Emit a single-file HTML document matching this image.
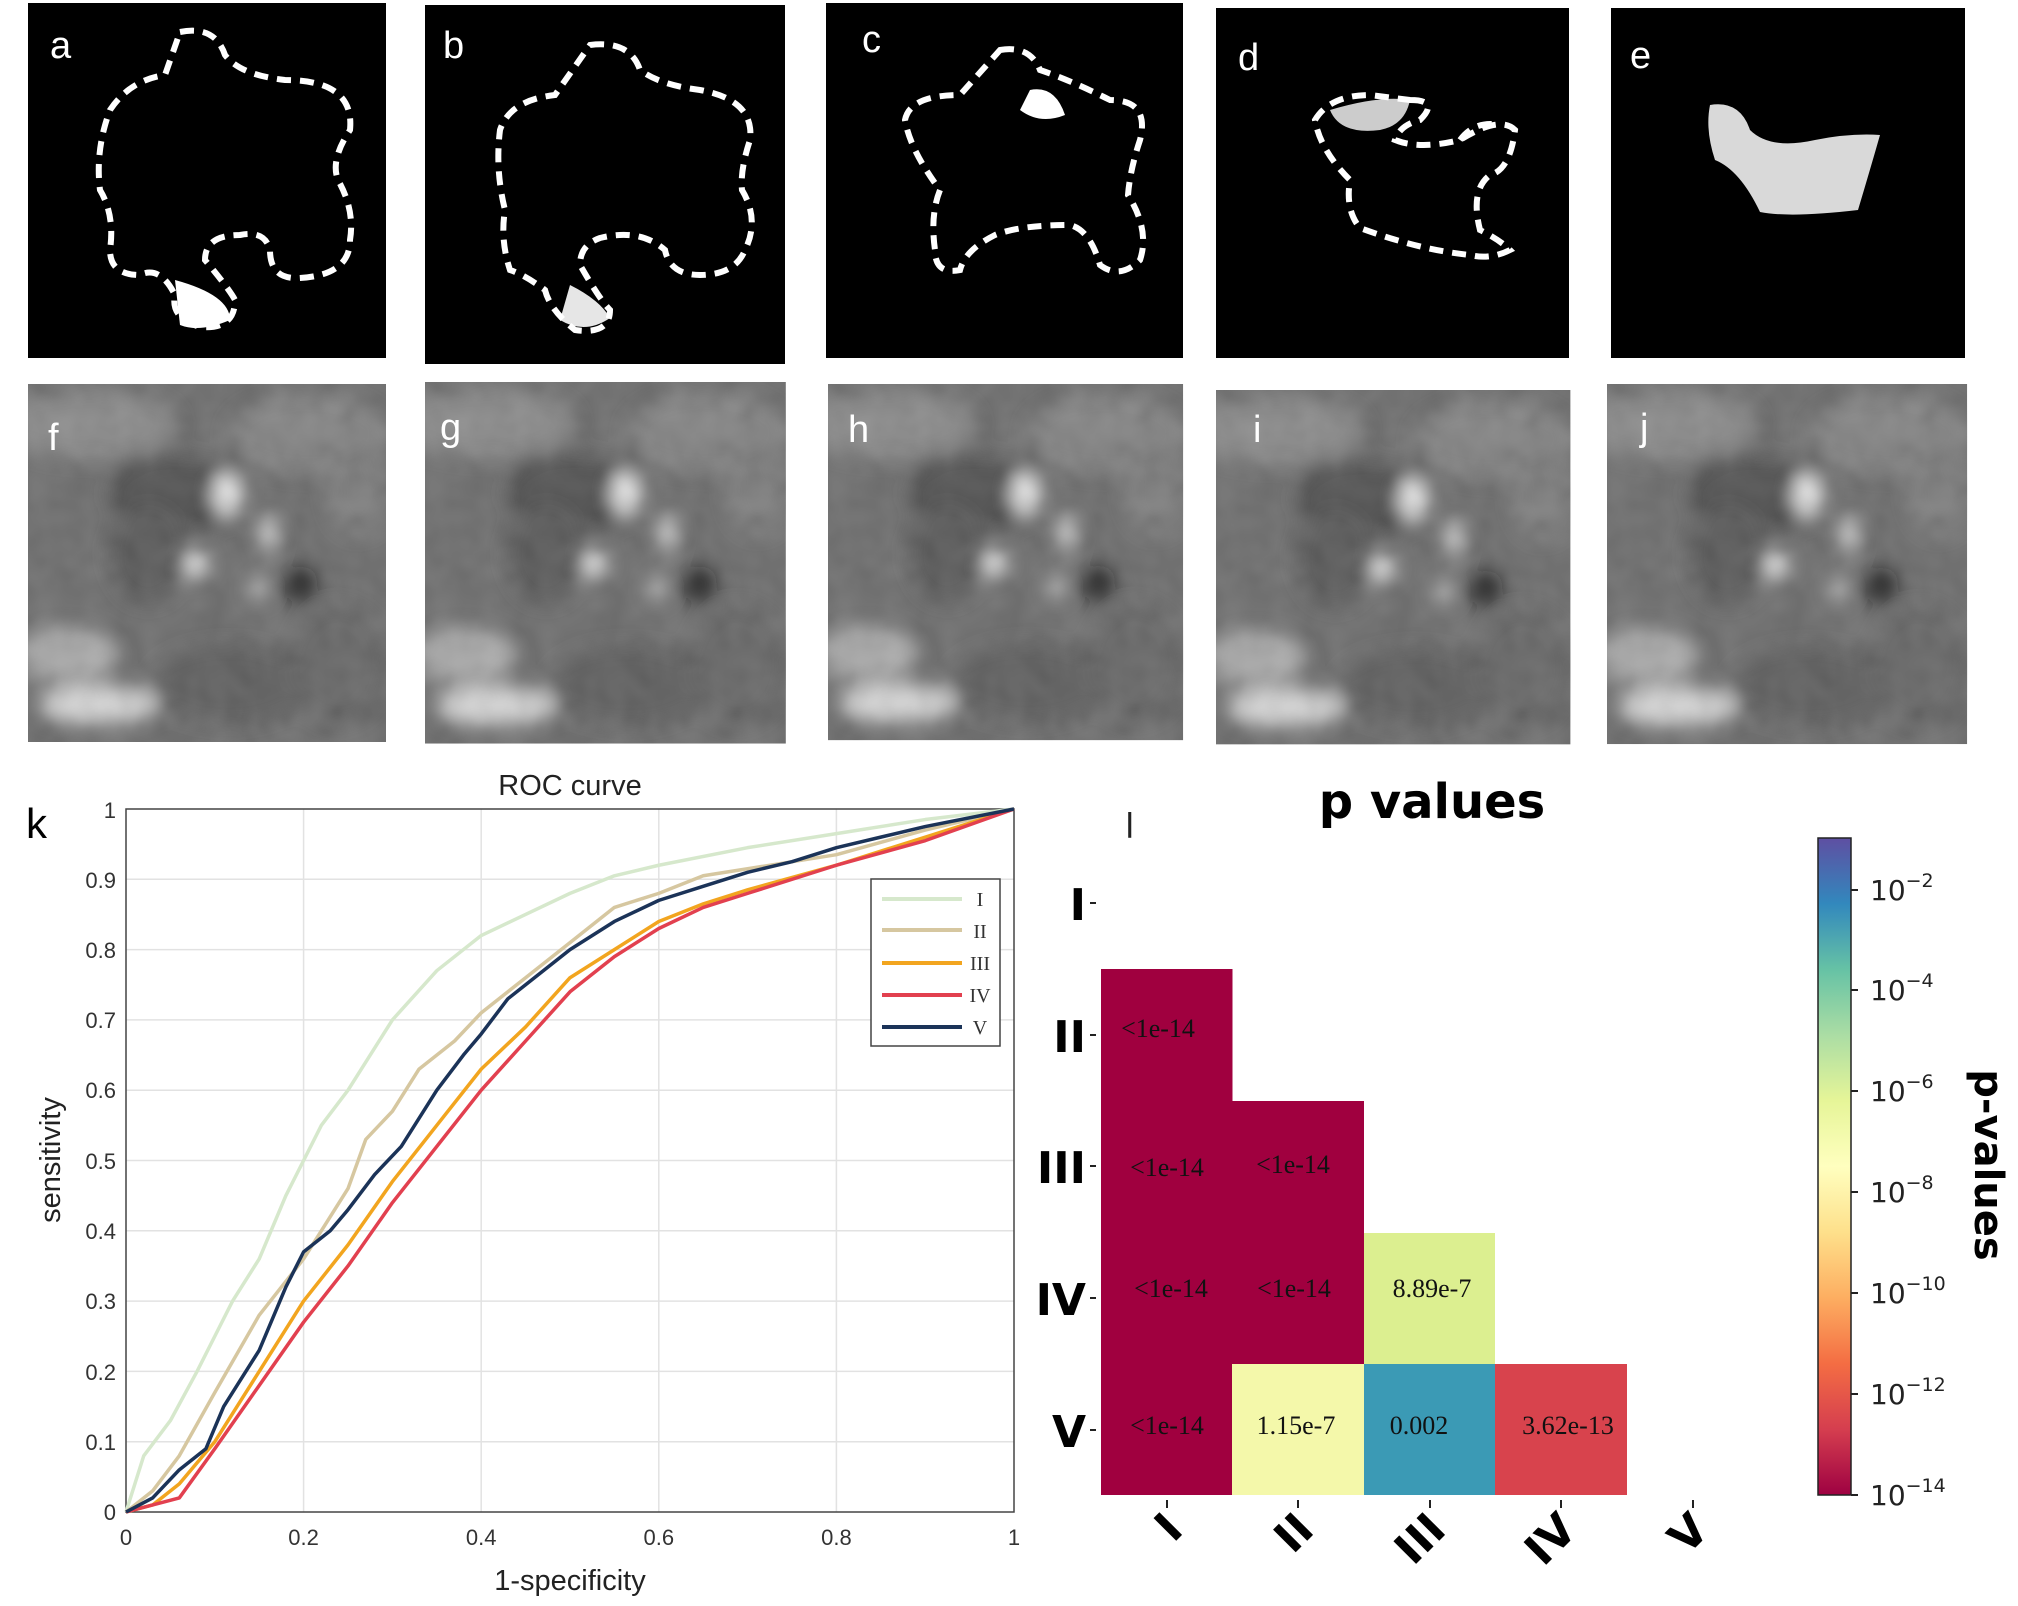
<!DOCTYPE html>
<html><head><meta charset="utf-8"><style>
html,body{margin:0;padding:0;background:#fff;}
svg{display:block;}
</style></head><body>
<svg width="2018" height="1606" viewBox="0 0 2018 1606" xmlns="http://www.w3.org/2000/svg">
<defs>
<filter id="bl" x="-20%" y="-20%" width="140%" height="140%"><feGaussianBlur stdDeviation="9"/></filter>
<filter id="nz" x="0" y="0" width="100%" height="100%">
 <feTurbulence type="fractalNoise" baseFrequency="0.035" numOctaves="2" seed="3"/>
 <feColorMatrix type="matrix" values="0.33 0.33 0.33 0 0  0.33 0.33 0.33 0 0  0.33 0.33 0.33 0 0  0 0 0 0 0.22"/>
</filter>
<clipPath id="gc"><rect x="0" y="0" width="358" height="358"/></clipPath>
<g id="us">
 <g clip-path="url(#gc)">
 <rect x="0" y="0" width="358" height="358" fill="#5e5e5e"/>
 <g filter="url(#bl)">
  <ellipse cx="60" cy="40" rx="90" ry="35" fill="#7e7e7e"/>
  <ellipse cx="280" cy="50" rx="80" ry="40" fill="#777"/>
  <ellipse cx="150" cy="110" rx="70" ry="40" fill="#3c3c3c"/>
  <ellipse cx="200" cy="110" rx="14" ry="22" fill="#e8e8e8"/>
  <ellipse cx="240" cy="150" rx="10" ry="18" fill="#c8c8c8"/>
  <ellipse cx="160" cy="180" rx="22" ry="14" fill="#e4e4e4"/>
  <ellipse cx="272" cy="200" rx="18" ry="18" fill="#111"/>
  <ellipse cx="230" cy="205" rx="9" ry="12" fill="#c0c0c0"/>
  <ellipse cx="120" cy="170" rx="40" ry="50" fill="#4a4a4a"/>
  <ellipse cx="40" cy="270" rx="50" ry="30" fill="#a0a0a0"/>
  <ellipse cx="70" cy="320" rx="60" ry="20" fill="#d4d4d4"/>
  <ellipse cx="200" cy="300" rx="80" ry="40" fill="#4e4e4e"/>
  <ellipse cx="310" cy="280" rx="50" ry="60" fill="#575757"/>
  <ellipse cx="330" cy="110" rx="30" ry="40" fill="#727272"/>
 </g>
 <rect x="0" y="0" width="358" height="358" filter="url(#nz)"/>
 </g>
</g>
</defs>

<!-- top binary panels -->
<rect x="28" y="3" width="358" height="355" fill="#000"/>
<rect x="425" y="5" width="360" height="359" fill="#000"/>
<rect x="826" y="3" width="357" height="355" fill="#000"/>
<rect x="1216" y="8" width="353" height="350" fill="#000"/>
<rect x="1611" y="8" width="354" height="350" fill="#000"/>
<g fill="none" stroke="#fff" stroke-width="6" stroke-dasharray="14 9">
<path d="M180 32 Q215 25 225 55 Q240 75 285 80 Q355 80 350 130 Q330 160 338 180 Q355 210 350 240 Q350 275 300 278 Q270 280 270 250 Q265 230 240 235 Q205 235 205 260 Q230 290 235 300 Q235 330 200 327 Q170 318 175 295 Q160 265 140 275 Q110 275 110 250 Q115 215 100 190 Q95 150 110 110 Q130 80 165 75 Z"/>
<path d="M590 45 Q630 40 640 70 Q660 85 700 90 Q755 100 750 140 Q740 170 742 190 Q760 220 745 250 Q735 275 700 275 Q670 275 665 250 Q640 228 600 238 Q580 245 580 265 Q600 300 610 310 Q610 335 575 330 Q550 310 545 290 Q525 275 510 270 Q500 240 505 210 Q495 170 500 130 Q510 100 555 95 Z"/>
<path d="M1000 50 Q1030 45 1040 70 Q1070 80 1110 100 Q1150 100 1140 140 Q1130 170 1128 195 Q1150 230 1140 260 Q1120 280 1100 265 Q1090 230 1070 225 Q1020 225 995 235 Q965 250 960 270 Q935 275 935 250 Q930 215 940 190 Q910 150 905 120 Q910 95 960 95 Z"/>
<path d="M1410 100 Q1440 100 1420 120 Q1400 125 1395 140 Q1420 150 1460 140 Q1500 115 1515 130 Q1510 170 1490 175 Q1470 190 1480 230 Q1500 240 1510 250 Q1490 260 1470 255 Q1420 250 1360 228 Q1345 210 1350 180 Q1320 150 1315 120 Q1330 95 1370 95 Z"/>
<path d="M1460 140 Q1475 120 1500 125" />
</g>
<g fill="#fff">
<path d="M175 280 Q230 295 230 320 Q200 333 180 325 Z"/>
<path d="M570 285 Q600 300 610 318 Q585 335 560 320 Z" opacity="0.9"/>
<path d="M1030 90 Q1055 85 1065 115 Q1040 125 1020 110 Z"/>
<path d="M1330 110 Q1380 95 1410 100 Q1405 125 1380 130 Q1340 135 1330 110 Z" opacity="0.8"/>
<path d="M1710 105 Q1740 100 1750 130 Q1770 150 1815 140 Q1850 133 1880 135 Q1870 170 1858 210 Q1790 218 1760 212 Q1740 170 1715 160 Q1705 130 1710 105 Z" opacity="0.85"/>
</g>
<g font-family="Liberation Sans, sans-serif" font-size="38" fill="#fff">
<text x="50" y="58">a</text><text x="443" y="58">b</text><text x="862" y="52">c</text><text x="1238" y="70">d</text><text x="1630" y="68">e</text>
</g>

<!-- ultrasound panels -->
<g transform="translate(28,384)"><use href="#us"/></g>
<g transform="translate(425,382) scale(1.008,1.01)"><use href="#us"/></g>
<g transform="translate(828,384) scale(0.992,0.995)"><use href="#us"/></g>
<g transform="translate(1216,390) scale(0.99,0.99)"><use href="#us"/></g>
<g transform="translate(1607,384) scale(1.006,1.006)"><use href="#us"/></g>
<g font-family="Liberation Sans, sans-serif" font-size="38" fill="#fff">
<text x="48" y="450">f</text><text x="440" y="440">g</text><text x="848" y="442">h</text><text x="1253" y="442">i</text><text x="1640" y="440">j</text>
</g>

<!-- ROC -->
<g font-family="Liberation Sans, sans-serif">
<text x="570" y="795" font-size="29" text-anchor="middle" fill="#222">ROC curve</text>
<text x="26" y="838" font-size="42" fill="#000">k</text>
<g stroke="#e2e2e2" stroke-width="1.5">
<line x1="303.6" y1="809" x2="303.6" y2="1512"/><line x1="481.2" y1="809" x2="481.2" y2="1512"/><line x1="658.8" y1="809" x2="658.8" y2="1512"/><line x1="836.4" y1="809" x2="836.4" y2="1512"/>
<line x1="126" y1="1441.7" x2="1014" y2="1441.7"/><line x1="126" y1="1371.4" x2="1014" y2="1371.4"/><line x1="126" y1="1301.1" x2="1014" y2="1301.1"/><line x1="126" y1="1230.8" x2="1014" y2="1230.8"/><line x1="126" y1="1160.5" x2="1014" y2="1160.5"/><line x1="126" y1="1090.2" x2="1014" y2="1090.2"/><line x1="126" y1="1019.9" x2="1014" y2="1019.9"/><line x1="126" y1="949.6" x2="1014" y2="949.6"/><line x1="126" y1="879.3" x2="1014" y2="879.3"/>
</g>
<rect x="126" y="809" width="888" height="703" fill="none" stroke="#444" stroke-width="1.5"/>
<g font-size="22" fill="#333" text-anchor="end">
<text x="116" y="1520">0</text><text x="116" y="1450">0.1</text><text x="116" y="1380">0.2</text><text x="116" y="1309">0.3</text><text x="116" y="1239">0.4</text><text x="116" y="1169">0.5</text><text x="116" y="1098">0.6</text><text x="116" y="1028">0.7</text><text x="116" y="958">0.8</text><text x="116" y="888">0.9</text><text x="116" y="818">1</text>
</g>
<g font-size="22" fill="#333" text-anchor="middle">
<text x="126" y="1545">0</text><text x="303.6" y="1545">0.2</text><text x="481.2" y="1545">0.4</text><text x="658.8" y="1545">0.6</text><text x="836.4" y="1545">0.8</text><text x="1014" y="1545">1</text>
</g>
<text x="570" y="1590" font-size="29" text-anchor="middle" fill="#222">1-specificity</text>
<text transform="translate(60,1160) rotate(-90)" font-size="29" text-anchor="middle" fill="#222">sensitivity</text>
</g>
<g fill="none" stroke-width="3.5" stroke-linejoin="round" transform="translate(126,1512) scale(888,-703)">
<polyline vector-effect="non-scaling-stroke" stroke="#d6e8cc" points="0,0 0.02,0.08 0.05,0.13 0.08,0.2 0.1,0.25 0.12,0.3 0.15,0.36 0.18,0.45 0.2,0.5 0.22,0.55 0.25,0.6 0.28,0.66 0.3,0.7 0.35,0.77 0.4,0.82 0.45,0.85 0.5,0.88 0.55,0.905 0.6,0.92 0.7,0.945 0.8,0.965 0.9,0.985 1,1"/>
<polyline vector-effect="non-scaling-stroke" stroke="#d6c7a0" points="0,0 0.03,0.03 0.06,0.08 0.1,0.17 0.15,0.28 0.2,0.36 0.25,0.46 0.27,0.53 0.3,0.57 0.33,0.63 0.37,0.67 0.4,0.71 0.45,0.76 0.5,0.81 0.55,0.86 0.6,0.88 0.65,0.905 0.7,0.915 0.8,0.935 0.9,0.97 1,1"/>
<polyline vector-effect="non-scaling-stroke" stroke="#f2a51f" points="0,0 0.03,0.01 0.06,0.04 0.1,0.1 0.15,0.2 0.2,0.3 0.25,0.38 0.3,0.47 0.35,0.55 0.4,0.63 0.45,0.69 0.5,0.76 0.55,0.8 0.6,0.84 0.65,0.865 0.7,0.885 0.8,0.92 0.9,0.96 1,1"/>
<polyline vector-effect="non-scaling-stroke" stroke="#e2404f" points="0,0 0.03,0.01 0.06,0.02 0.1,0.09 0.15,0.18 0.2,0.27 0.25,0.35 0.3,0.44 0.35,0.52 0.4,0.6 0.45,0.67 0.5,0.74 0.55,0.79 0.6,0.83 0.65,0.86 0.7,0.88 0.8,0.92 0.9,0.955 1,1"/>
<polyline vector-effect="non-scaling-stroke" stroke="#1b3358" points="0,0 0.03,0.02 0.06,0.06 0.09,0.09 0.11,0.15 0.15,0.23 0.18,0.32 0.2,0.37 0.23,0.4 0.25,0.43 0.28,0.48 0.31,0.52 0.35,0.6 0.38,0.65 0.4,0.68 0.43,0.73 0.45,0.75 0.5,0.8 0.55,0.84 0.6,0.87 0.65,0.89 0.7,0.91 0.75,0.925 0.8,0.945 0.85,0.96 0.9,0.975 1,1"/>
</g>
<rect x="871" y="879" width="129" height="167" fill="#fff" stroke="#444" stroke-width="1.5"/>
<g stroke-width="4">
<line x1="882" y1="899" x2="962" y2="899" stroke="#d6e8cc"/>
<line x1="882" y1="930" x2="962" y2="930" stroke="#d6c7a0"/>
<line x1="882" y1="963" x2="962" y2="963" stroke="#f2a51f"/>
<line x1="882" y1="995" x2="962" y2="995" stroke="#e2404f"/>
<line x1="882" y1="1027" x2="962" y2="1027" stroke="#1b3358"/>
</g>
<g font-family="Liberation Serif, serif" font-size="20" fill="#333" text-anchor="middle">
<text x="980" y="906">I</text><text x="980" y="938">II</text><text x="980" y="970">III</text><text x="980" y="1002">IV</text><text x="980" y="1034">V</text>
</g>

<!-- heatmap -->
<g font-family="DejaVu Sans, sans-serif">
<text x="1432" y="818" font-size="48" font-weight="bold" text-anchor="middle" fill="#000">p values</text>
<text x="1125" y="838" font-size="34" fill="#222">l</text>
<rect x="1101" y="969" width="131.5" height="526" fill="#a0003f"/>
<rect x="1232" y="1101" width="132" height="263" fill="#a0003f"/>
<rect x="1364" y="1233" width="131" height="131" fill="#dcef90"/>
<rect x="1232" y="1364" width="132" height="131" fill="#f4f8aa"/>
<rect x="1364" y="1364" width="131" height="131" fill="#3b9ab5"/>
<rect x="1495" y="1364" width="132" height="131" fill="#d8434d"/>
<g stroke="#222" stroke-width="2">
<line x1="1090" y1="903" x2="1096" y2="903"/><line x1="1090" y1="1035" x2="1096" y2="1035"/><line x1="1090" y1="1166" x2="1096" y2="1166"/><line x1="1090" y1="1298" x2="1096" y2="1298"/><line x1="1090" y1="1430" x2="1096" y2="1430"/>
<line x1="1167" y1="1500" x2="1167" y2="1508"/><line x1="1298" y1="1500" x2="1298" y2="1508"/><line x1="1430" y1="1500" x2="1430" y2="1508"/><line x1="1561" y1="1500" x2="1561" y2="1508"/><line x1="1693" y1="1500" x2="1693" y2="1508"/>
</g>
<g font-size="44" font-weight="bold" fill="#000" text-anchor="end">
<text x="1086" y="920">I</text><text x="1086" y="1052">II</text><text x="1086" y="1183">III</text><text x="1086" y="1315">IV</text><text x="1086" y="1447">V</text>
</g>
<g font-size="44" font-weight="bold" fill="#000" text-anchor="end">
<text transform="translate(1185,1532) rotate(-45)">I</text>
<text transform="translate(1316,1532) rotate(-45)">II</text>
<text transform="translate(1448,1532) rotate(-45)">III</text>
<text transform="translate(1579,1532) rotate(-45)">IV</text>
<text transform="translate(1711,1532) rotate(-45)">V</text>
</g>
</g>
<g font-family="Liberation Serif, serif" font-size="26" fill="#111" text-anchor="middle">
<text x="1158" y="1037">&lt;1e-14</text>
<text x="1167" y="1176">&lt;1e-14</text><text x="1293" y="1173">&lt;1e-14</text>
<text x="1171" y="1297">&lt;1e-14</text><text x="1294" y="1297">&lt;1e-14</text><text x="1432" y="1297">8.89e-7</text>
<text x="1167" y="1434">&lt;1e-14</text><text x="1296" y="1434">1.15e-7</text><text x="1419" y="1434">0.002</text><text x="1568" y="1434">3.62e-13</text>
</g>

<!-- colorbar -->
<defs><linearGradient id="sp" x1="0" y1="1" x2="0" y2="0">
<stop offset="0" stop-color="#9e0142"/><stop offset="0.1" stop-color="#d53e4f"/><stop offset="0.2" stop-color="#f46d43"/><stop offset="0.3" stop-color="#fdae61"/><stop offset="0.4" stop-color="#fee08b"/><stop offset="0.5" stop-color="#ffffbf"/><stop offset="0.6" stop-color="#e6f598"/><stop offset="0.7" stop-color="#abdda4"/><stop offset="0.8" stop-color="#66c2a5"/><stop offset="0.9" stop-color="#3288bd"/><stop offset="1" stop-color="#5e4fa2"/>
</linearGradient></defs>
<rect x="1818" y="838" width="33" height="657" fill="url(#sp)" stroke="#222" stroke-width="1.5"/>
<g stroke="#222" stroke-width="2">
<line x1="1851" y1="890" x2="1858" y2="890"/><line x1="1851" y1="990" x2="1858" y2="990"/><line x1="1851" y1="1091" x2="1858" y2="1091"/><line x1="1851" y1="1192" x2="1858" y2="1192"/><line x1="1851" y1="1293" x2="1858" y2="1293"/><line x1="1851" y1="1394" x2="1858" y2="1394"/><line x1="1851" y1="1495" x2="1858" y2="1495"/>
</g>
<g font-family="DejaVu Sans, sans-serif" font-size="28" fill="#222">
<text x="1870" y="900">10<tspan font-size="19" dy="-13">−2</tspan></text>
<text x="1870" y="1000">10<tspan font-size="19" dy="-13">−4</tspan></text>
<text x="1870" y="1101">10<tspan font-size="19" dy="-13">−6</tspan></text>
<text x="1870" y="1202">10<tspan font-size="19" dy="-13">−8</tspan></text>
<text x="1870" y="1303">10<tspan font-size="19" dy="-13">−10</tspan></text>
<text x="1870" y="1404">10<tspan font-size="19" dy="-13">−12</tspan></text>
<text x="1870" y="1505">10<tspan font-size="19" dy="-13">−14</tspan></text>
</g>
<text transform="translate(1975,1165) rotate(90)" font-family="DejaVu Sans, sans-serif" font-size="40" font-weight="bold" text-anchor="middle" fill="#000">p-values</text>
</svg>
</body></html>
